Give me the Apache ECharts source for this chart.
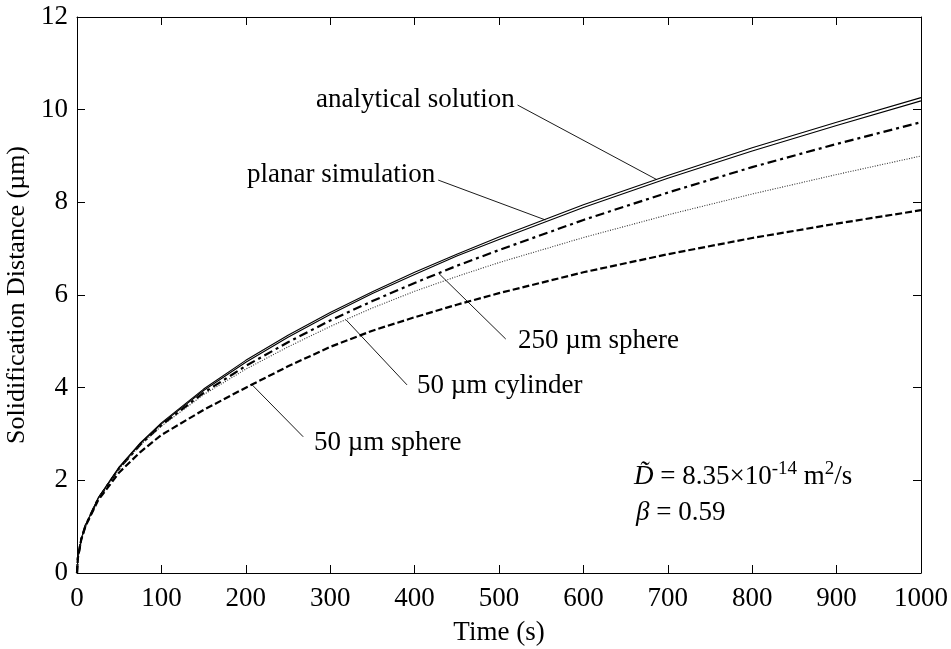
<!DOCTYPE html>
<html>
<head>
<meta charset="utf-8">
<script src="https://cdn.jsdelivr.net/npm/echarts@6/dist/echarts.min.js"></script>
<style>
  html, body { margin: 0; padding: 0; background: #fff; }
  #chart { width: 951px; height: 649px; }
</style>
</head>
<body>
<div id="chart"></div>
<script>
// time points (s)
var times = [0, 1, 5, 10, 25, 50, 75, 100, 150, 200, 250, 300, 350, 400, 450, 500, 600, 700, 800, 900, 1000]
// solidification distance (um)
var analytical = [0, 0.32, 0.73, 1.03, 1.62, 2.29, 2.81, 3.24, 3.97, 4.59, 5.13, 5.62, 6.07, 6.49, 6.88, 7.25, 7.95, 8.58, 9.18, 9.73, 10.26]
var planar = [0, 0.31, 0.72, 1.02, 1.61, 2.27, 2.79, 3.22, 3.94, 4.55, 5.09, 5.58, 6.03, 6.44, 6.84, 7.20, 7.89, 8.52, 9.11, 9.66, 10.19]
var sphere250 = [0, 0.32, 0.73, 1.02, 1.60, 2.26, 2.77, 3.19, 3.89, 4.47, 4.98, 5.45, 5.87, 6.26, 6.63, 6.97, 7.62, 8.21, 8.76, 9.26, 9.73]
var cylinder50 = [0, 0.32, 0.73, 1.02, 1.60, 2.25, 2.76, 3.17, 3.85, 4.40, 4.88, 5.32, 5.72, 6.08, 6.40, 6.70, 7.24, 7.73, 8.18, 8.60, 9.00]
var sphere50 = [0, 0.32, 0.72, 1.01, 1.57, 2.17, 2.61, 2.98, 3.52, 4.00, 4.46, 4.88, 5.23, 5.52, 5.79, 6.04, 6.49, 6.88, 7.23, 7.54, 7.83]

// leader lines: [label end, curve point] in data units
var leaderAnalytical = [[522, 10.10], [687, 8.49]]
var leaderPlanar = [[428, 8.48], [555, 7.62]]
var leaderSphere250 = [[508, 5.05], [429, 6.46]]
var leaderCylinder50 = [[391, 4.06], [319, 5.46]]
var leaderSphere50 = [[268, 2.94], [207, 4.07]]

var serif = '"Liberation Serif", "Times New Roman", serif'

function pairs(ys) {
  return times.map(function (t, i) { return [t, ys[i]] })
}

function curve(name, ys, width, type, color) {
  return {
    name: name,
    type: 'line',
    data: pairs(ys),
    showSymbol: false,
    lineStyle: { color: color || '#000', width: width, type: type },
    z: 3
  }
}

function leader(pts) {
  return {
    type: 'line',
    data: pts,
    showSymbol: false,
    silent: true,
    lineStyle: { color: '#000', width: 0.9, type: 'solid' },
    z: 2
  }
}

var chart = echarts.init(document.getElementById('chart'))

var axisCommon = {
  type: 'value',
  axisLine: { show: true, onZero: false, lineStyle: { color: '#000', width: 1 } },
  axisTick: { show: true, inside: true, length: 8, lineStyle: { color: '#000' } },
  splitLine: { show: false }
}

var option = {
  backgroundColor: '#fff',
  animation: false,
  grid: { left: 77, right: 30, top: 17, bottom: 76, outerBoundsMode: 'none', containLabel: false },
  xAxis: [
    Object.assign({}, axisCommon, {
      min: 0, max: 1000, interval: 100,
      name: 'Time (s)',
      nameLocation: 'middle',
      nameGap: 46,
      nameTextStyle: { fontFamily: serif, fontSize: 27, color: '#000' },
      axisLabel: {
        fontFamily: serif, fontSize: 27, color: '#000', margin: 12,
        formatter: function (v) { return String(v) }
      }
    }),
    Object.assign({}, axisCommon, {
      min: 0, max: 1000, interval: 100, position: 'top',
      axisLabel: { show: false }
    })
  ],
  yAxis: [
    Object.assign({}, axisCommon, {
      min: 0, max: 12, interval: 2,
      name: 'Solidification Distance (\u00b5m)',
      nameLocation: 'middle',
      nameGap: 38,
      nameTextStyle: { fontFamily: serif, fontSize: 26, color: '#000' },
      axisLabel: { fontFamily: serif, fontSize: 27, color: '#000', margin: 9 }
    }),
    Object.assign({}, axisCommon, {
      min: 0, max: 12, interval: 2, position: 'right',
      axisLabel: { show: false }
    })
  ],
  series: [
    curve('analytical solution', analytical, 1.1, 'solid'),
    curve('planar simulation', planar, 1.1, 'solid'),
    curve('250 \u00b5m sphere', sphere250, 2.2, [9, 4, 3, 4]),
    curve('50 \u00b5m cylinder', cylinder50, 1.1, [1, 1.5], '#333'),
    curve('50 \u00b5m sphere', sphere50, 2.2, [7, 3]),
    leader(leaderAnalytical),
    leader(leaderPlanar),
    leader(leaderSphere250),
    leader(leaderCylinder50),
    leader(leaderSphere50)
  ],
  graphic: [
    { type: 'text', left: 316, top: 86, style: { text: 'analytical solution', font: '27px ' + serif, fill: '#000' } },
    { type: 'text', left: 247, top: 161, style: { text: 'planar simulation', font: '27px ' + serif, fill: '#000' } },
    { type: 'text', left: 518, top: 327, style: { text: '250 \u00b5m sphere', font: '27px ' + serif, fill: '#000' } },
    { type: 'text', left: 417, top: 372, style: { text: '50 \u00b5m cylinder', font: '27px ' + serif, fill: '#000' } },
    { type: 'text', left: 314, top: 429, style: { text: '50 \u00b5m sphere', font: '27px ' + serif, fill: '#000' } },
    {
      type: 'text', left: 634, top: 460,
      style: {
        text: '{i|D\u0303} = 8.35\u00d710{s|-14} m{s|2}/s',
        font: '27px ' + serif,
        fill: '#000',
        lineHeight: 34,
        rich: {
          i: { fontStyle: 'italic', fontFamily: serif, fontSize: 27, lineHeight: 34 },
          s: { fontFamily: serif, fontSize: 19, verticalAlign: 'top', lineHeight: 34, padding: [0, 0, 10, 0] }
        }
      }
    },
    {
      type: 'text', left: 636, top: 499,
      style: {
        text: '{i|\u03b2} = 0.59',
        font: '27px ' + serif,
        fill: '#000',
        rich: { i: { fontStyle: 'italic', fontFamily: serif, fontSize: 27 } }
      }
    }
  ]
}

chart.setOption(option)
</script>
</body>
</html>
